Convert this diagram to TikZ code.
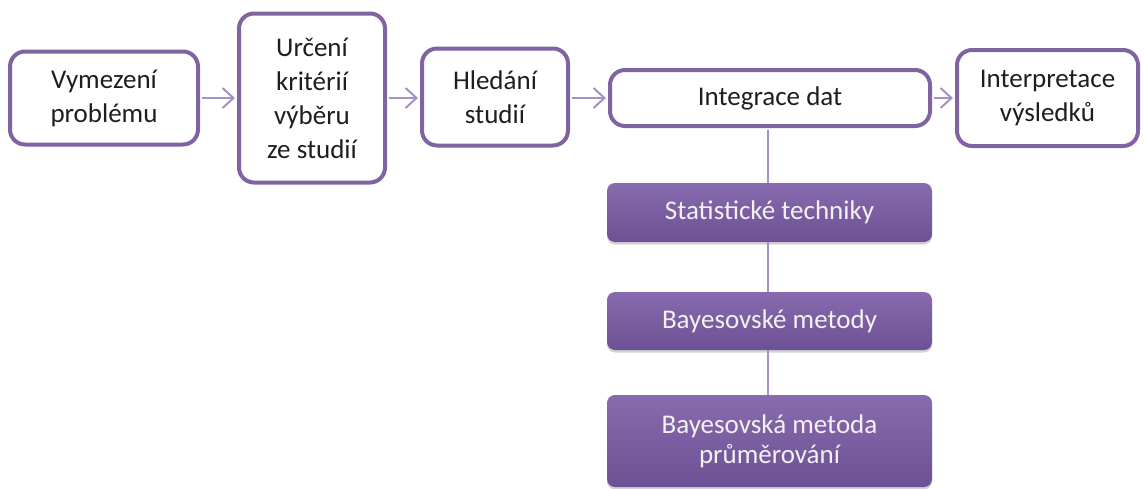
\documentclass[tikz,border=0pt]{standalone}
\usepackage{fontspec}
\setmainfont{Carlito}
\usetikzlibrary{arrows.meta,shadows}
\definecolor{frame}{RGB}{128,100,162}
\definecolor{link}{RGB}{165,145,200}
\definecolor{ptop}{RGB}{136,106,174}
\definecolor{pbot}{RGB}{110,80,148}
\definecolor{ink}{RGB}{30,30,30}
\begin{document}
\begin{tikzpicture}[x=1pt,y=1pt,
  stepbox/.style={draw=frame, line width=4pt, rounded corners=15pt, fill=white,
    align=center, inner sep=0pt, text=ink, font=\fontsize{27}{34}\selectfont},
  techbox/.style={rounded corners=8pt, top color=ptop, bottom color=pbot,
    align=center, inner sep=0pt, text=white!95!black,
    font=\fontsize{27}{30}\selectfont, minimum width=325pt,
    drop shadow={shadow xshift=0pt, shadow yshift=-2.5pt, opacity=0.35}},
  flow/.style={draw=link, line width=2pt, shorten <=2pt, shorten >=2pt,
    -{Straight Barb[length=11pt, width=20pt, line width=2pt]}},
  tie/.style={draw=link, line width=2pt}]
\useasboundingbox (0,0) rectangle (1144,-488);

% top row: the working steps
\node[stepbox, minimum width=188pt, minimum height=93pt] (b1) at (104,-98) {Vymezení\\problému};
\node[stepbox, minimum width=146pt, minimum height=169pt] (b2) at (312,-98) {Určení\\kritérií\\výběru\\ze studií};
\node[stepbox, minimum width=146pt, minimum height=97pt] (b3) at (495,-97) {Hledání\\studií};
\node[stepbox, minimum width=320pt, minimum height=56pt] (b4) at (770,-98) {Integrace dat};
\node[stepbox, minimum width=181pt, minimum height=96pt] (b5) at (1047.5,-98) {Interpretace\\výsledků};

% techniques under data integration
\node[techbox, minimum height=59pt] (t1) at (769.5,-212.5) {\raisebox{-2pt}{Statistické techniky}};
\node[techbox, minimum height=58pt] (t2) at (769.5,-321) {\raisebox{-2pt}{Bayesovské metody}};
\node[techbox, minimum height=92pt] (t3) at (769.5,-441) {Bayesovská metoda\\průměrování};

% vertical spine joining the techniques
\coordinate (spine) at (768,0);
\draw[tie, shorten <=2pt] (b4.south -| spine) -- (t1.north -| spine);
\draw[tie] (t1.south -| spine) -- (t2.north -| spine);
\draw[tie] (t2.south -| spine) -- (t3.north -| spine);

% arrows between the steps
\draw[flow] (b1.east) -- (b2.west |- b1.east);
\draw[flow] (b2.east |- b1.east) -- (b3.west |- b1.east);
\draw[flow] (b3.east |- b1.east) -- (b4.west |- b1.east);
\draw[flow] (b4.east) -- (b5.west |- b4.east);
\end{tikzpicture}
\end{document}
